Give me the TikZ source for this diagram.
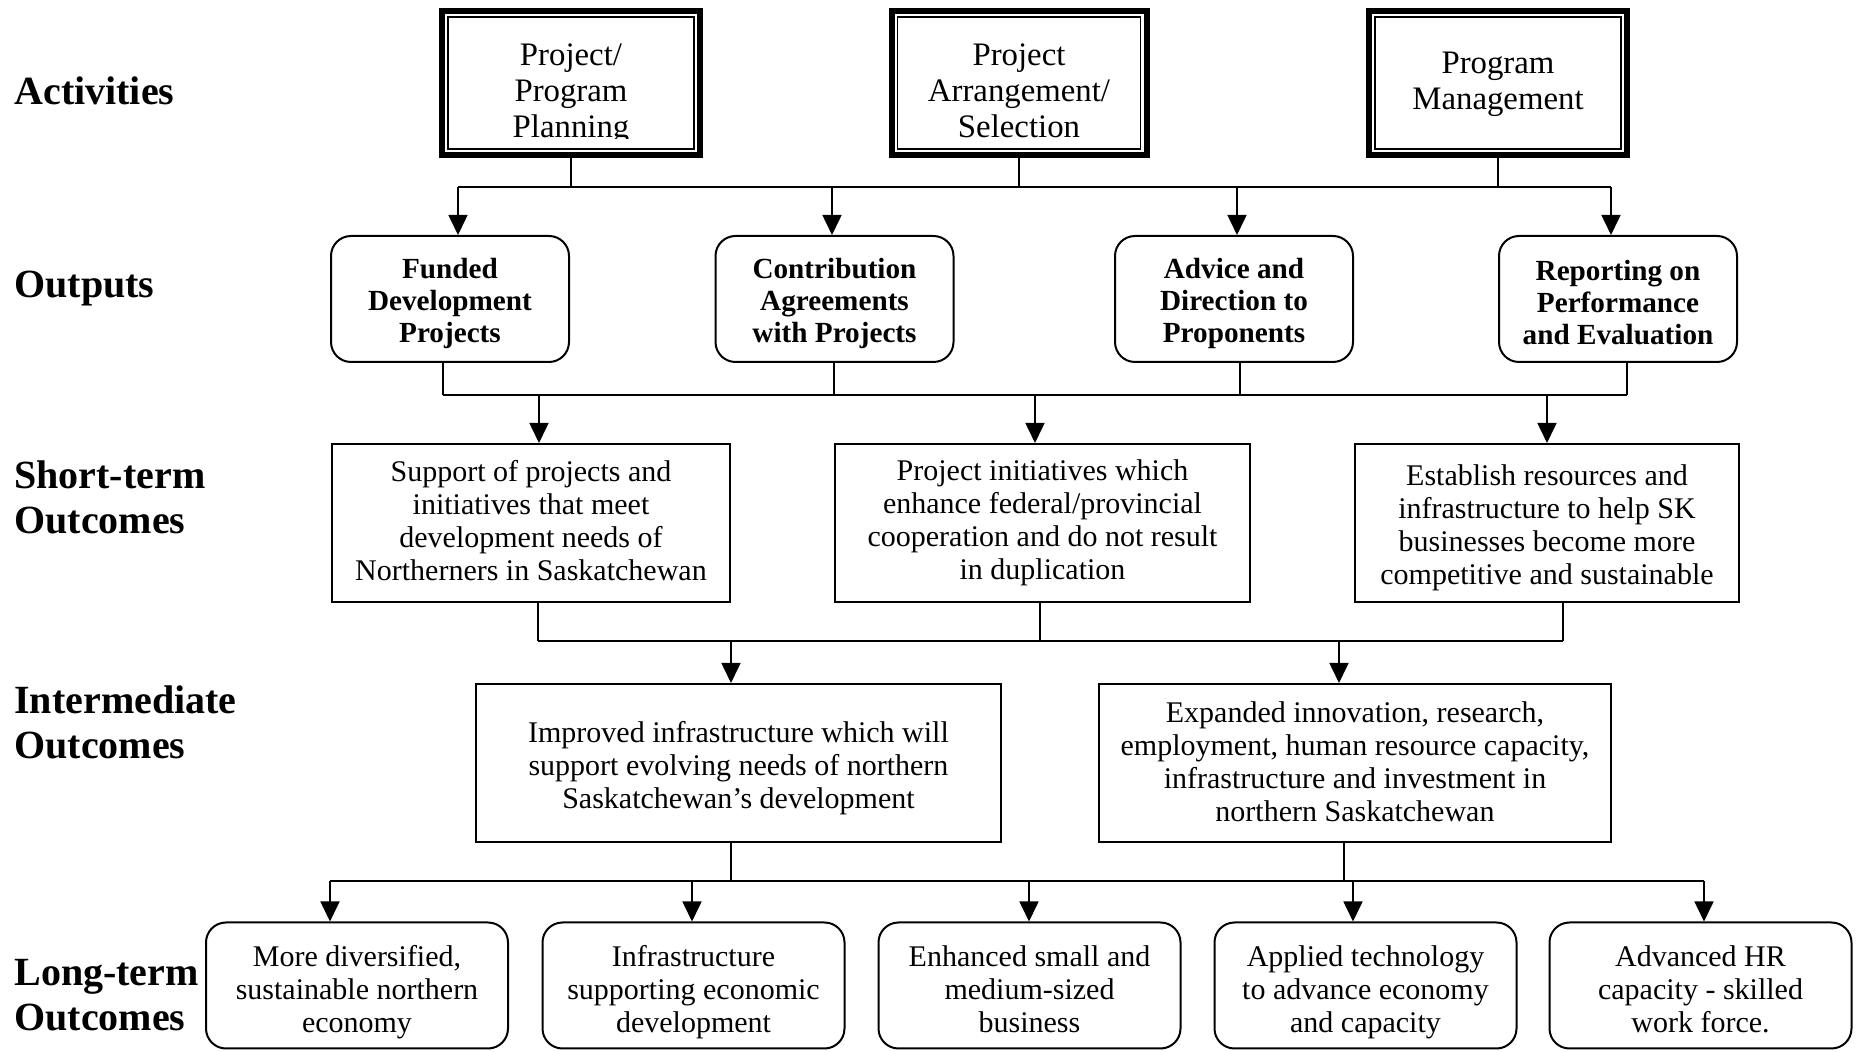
\documentclass[tikz,border=0pt]{standalone}
\usepackage{fontspec}
\setmainfont{Liberation Serif}
\usetikzlibrary{arrows.meta,calc}
\begin{document}
\begin{tikzpicture}[x=0.5pt,y=-0.5pt,
  conn/.style={line width=0.8pt},
  arr/.style={conn,-{Triangle[width=9.5pt,length=10pt]}},
  actbox/.style={draw,line width=3pt,outer sep=0pt,inner sep=0pt,minimum height=72pt},
  actin/.style={line width=0.8pt},
  acttext/.style={align=center,inner sep=0pt,font=\fontsize{16.4}{18}\selectfont},
  outbox/.style={draw,line width=1pt,rounded corners=10pt,inner sep=0pt,
     minimum width=119pt,minimum height=63pt},
  outtext/.style={align=center,inner sep=0pt,font=\fontsize{14.6}{16}\selectfont\bfseries},
  recbox/.style={draw,line width=1pt,inner sep=0pt,minimum height=79pt},
  bodytext/.style={align=center,inner sep=0pt,font=\fontsize{15}{16.5}\selectfont},
  longbox/.style={draw,line width=1pt,rounded corners=10pt,inner sep=0pt,
     minimum width=151pt,minimum height=63pt},
  lab/.style={anchor=west,align=left,inner sep=0pt,font=\fontsize{20}{22.5}\selectfont\bfseries}]

\fill[white] (0,0) rectangle (1860,1052);
\useasboundingbox (0,0) rectangle (1860,1052);

% ---------- row labels ----------
\node[lab] (lact) at (14,91) {Activities};
\node[lab] (lout) at (14,289) {Outputs};
\node[lab] (lst) at (14,497) {Short-term\\Outcomes};
\node[lab] (lint) at (14,722) {Intermediate\\Outcomes};
\node[lab] (llt) at (14,995) {Long-term\\Outcomes};

% ---------- activities ----------
\node[actbox,minimum width=129pt] (a1) at (571,83) {};
\node[actbox,minimum width=127.5pt] (a2) at (1019,83) {};
\node[actbox,minimum width=129pt] (a3) at (1498,83) {};
\foreach \n in {a1,a2,a3}{
  \draw[actin] ($(\n.north west)+(6,6)$) rectangle ($(\n.south east)+(-6,-6)$);
}
\begin{scope}
  \clip (445,14) rectangle (697,139);
  \node[acttext] (a1t) at (571,94) {Project/\\Program\\Planning};
\end{scope}
\begin{scope}
  \clip (897,14) rectangle (1141,139);
  \node[acttext] (a2t) at (1019,91) {Project\\Arrangement/\\Selection};
\end{scope}
\node[acttext] (a3t) at (1498,84) {Program\\Management};

% ---------- outputs ----------
\node[outbox] (o1) at (450,299) {};
\node[outbox] (o2) at (834.5,299) {};
\node[outbox] (o3) at (1234,299) {};
\node[outbox] (o4) at (1618,299) {};
\node[outtext] (o1t) at (450,303) {Funded\\Development\\Projects};
\node[outtext] (o2t) at (834.5,303) {Contribution\\Agreements\\with Projects};
\node[outtext] (o3t) at (1234,303) {Advice and\\Direction to\\Proponents};
\node[outtext] (o4t) at (1618,303) {Reporting on\\Performance\\and Evaluation};

% ---------- short-term ----------
\node[recbox,minimum width=199pt] (s1) at (531,523) {};
\node[recbox,minimum width=207.5pt] (s2) at (1042.5,523) {};
\node[recbox,minimum width=192pt] (s3) at (1547,523) {};
\node[bodytext] (s1t) at (531,521) {Support of projects and\\initiatives that meet\\development needs of\\Northerners in Saskatchewan};
\node[bodytext] (s2t) at (1042.5,523) {Project initiatives which\\enhance federal/provincial\\cooperation and do not result\\in duplication};
\node[bodytext] (s3t) at (1547,528) {Establish resources and\\infrastructure to help SK\\businesses become more\\competitive and sustainable};

% ---------- intermediate ----------
\node[recbox,minimum width=262.5pt] (i1) at (738.5,763) {};
\node[recbox,minimum width=256pt] (i2) at (1355,763) {};
\node[bodytext] (i1t) at (738.5,768) {Improved infrastructure which will\\support evolving needs of northern\\Saskatchewan's development};
\node[bodytext] (i2t) at (1355,762) {Expanded innovation, research,\\employment, human resource capacity,\\infrastructure and investment in\\northern Saskatchewan};

% ---------- long-term ----------
\node[longbox] (l1) at (357,985.5) {};
\node[longbox] (l2) at (693.5,985.5) {};
\node[longbox] (l3) at (1029.5,985.5) {};
\node[longbox] (l4) at (1365.5,985.5) {};
\node[longbox] (l5) at (1700.5,985.5) {};
\node[bodytext] (l1t) at (357,992.5) {More diversified,\\sustainable northern\\economy};
\node[bodytext] (l2t) at (693.5,992.5) {Infrastructure\\supporting economic\\development};
\node[bodytext] (l3t) at (1029.5,989.5) {Enhanced small and\\medium-sized\\business};
\node[bodytext] (l4t) at (1365.5,992.5) {Applied technology\\to advance economy\\and capacity};
\node[bodytext] (l5t) at (1700.5,989.5) {Advanced HR\\capacity - skilled\\work force.};

% ---------- connectors: activities -> outputs ----------
\coordinate (ba1) at (458,187);
\coordinate (ba2) at (832,187);
\coordinate (ba3) at (1237,187);
\coordinate (ba4) at (1611,187);
\draw[conn] (a1.south) -- (a1.south |- ba1);
\draw[conn] (a2.south) -- (a2.south |- ba1);
\draw[conn] (a3.south) -- (a3.south |- ba1);
\draw[conn] (ba1) -- (ba4);
\draw[arr] (ba1) -- (ba1 |- o1.north);
\draw[arr] (ba2) -- (ba2 |- o2.north);
\draw[arr] (ba3) -- (ba3 |- o3.north);
\draw[arr] (ba4) -- (ba4 |- o4.north);

% ---------- outputs -> short-term ----------
\coordinate (p1) at (443,395);
\coordinate (p2) at (834,395);
\coordinate (p3) at (1240,395);
\coordinate (p4) at (1627,395);
\coordinate (q1) at (539,395);
\coordinate (q2) at (1035,395);
\coordinate (q3) at (1547,395);
\draw[conn] (o1.south -| p1) -- (p1);
\draw[conn] (o2.south -| p2) -- (p2);
\draw[conn] (o3.south -| p3) -- (p3);
\draw[conn] (o4.south -| p4) -- (p4);
\draw[conn] (p1) -- (p4);
\draw[arr] (q1) -- (q1 |- s1.north);
\draw[arr] (q2) -- (q2 |- s2.north);
\draw[arr] (q3) -- (q3 |- s3.north);

% ---------- short-term -> intermediate ----------
\coordinate (r1) at (538,641);
\coordinate (r2) at (1040,641);
\coordinate (r3) at (1563,641);
\coordinate (t1) at (731,641);
\coordinate (t2) at (1339,641);
\draw[conn] (s1.south -| r1) -- (r1);
\draw[conn] (s2.south -| r2) -- (r2);
\draw[conn] (s3.south -| r3) -- (r3);
\draw[conn] (r1) -- (r3);
\draw[arr] (t1) -- (t1 |- i1.north);
\draw[arr] (t2) -- (t2 |- i2.north);

% ---------- intermediate -> long-term ----------
\coordinate (u1) at (731,881);
\coordinate (u2) at (1344,881);
\coordinate (v1) at (330,881);
\coordinate (v2) at (692,881);
\coordinate (v3) at (1029,881);
\coordinate (v4) at (1353,881);
\coordinate (v5) at (1704,881);
\draw[conn] (i1.south -| u1) -- (u1);
\draw[conn] (i2.south -| u2) -- (u2);
\draw[conn] (v1) -- (v5);
\draw[arr] (v1) -- (v1 |- l1.north);
\draw[arr] (v2) -- (v2 |- l2.north);
\draw[arr] (v3) -- (v3 |- l3.north);
\draw[arr] (v4) -- (v4 |- l4.north);
\draw[arr] (v5) -- (v5 |- l5.north);
\end{tikzpicture}
\end{document}
